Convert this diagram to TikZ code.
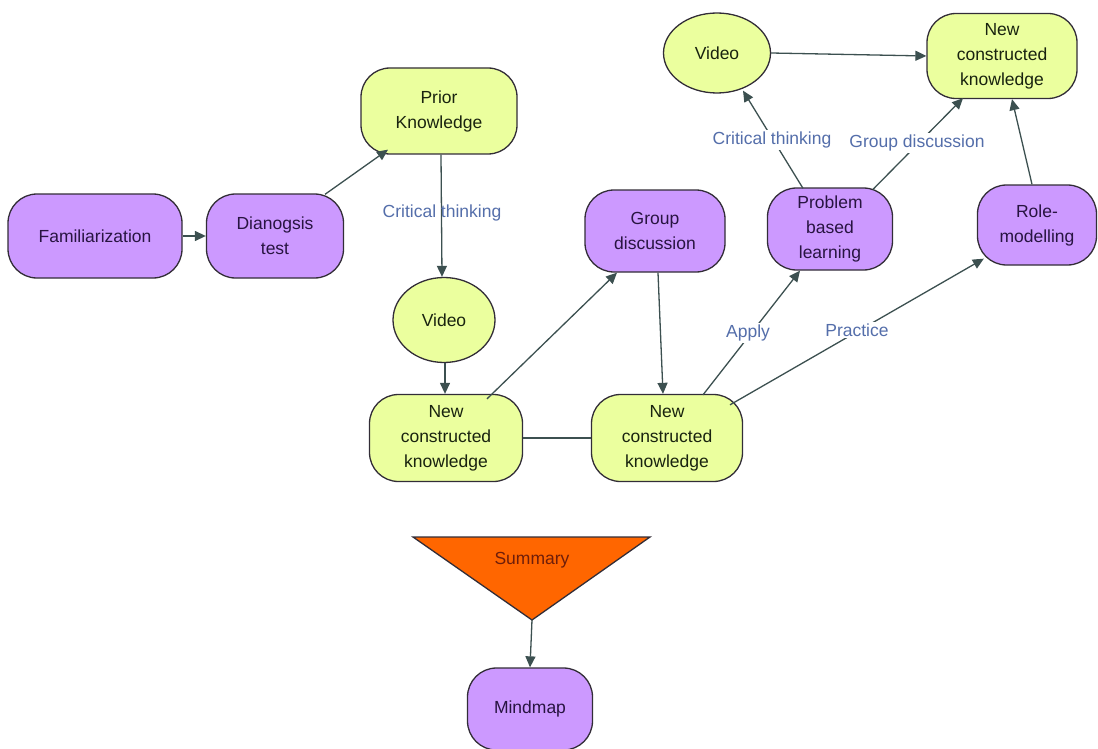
\documentclass[tikz,border=0pt]{standalone}
\usepackage{fontspec}
\setmainfont{Liberation Sans}
\usetikzlibrary{arrows.meta,shapes.geometric,calc}
\definecolor{pfill}{RGB}{204,153,255}
\definecolor{lfill}{RGB}{235,255,158}
\definecolor{ofill}{RGB}{255,102,0}
\definecolor{ptext}{RGB}{40,20,65}
\definecolor{ltext}{RGB}{25,35,15}
\definecolor{stext}{RGB}{110,30,10}
\definecolor{labc}{RGB}{84,110,170}
\definecolor{arrowc}{RGB}{60,80,80}
\definecolor{boxline}{RGB}{50,45,55}
\begin{document}
\begin{tikzpicture}[x=1pt,y=-1pt,
  box/.style={draw=boxline, line width=1.3pt, rounded corners=29pt, align=center,
    font=\fontsize{17.5}{25}\selectfont, inner sep=0pt},
  pbox/.style={box, fill=pfill, text=ptext},
  lbox/.style={box, fill=lfill, text=ltext},
  lell/.style={ellipse, draw=boxline, line width=1.3pt, fill=lfill, text=ltext,
    font=\fontsize{17.5}{25}\selectfont, inner sep=0pt},
  conn/.style={draw=arrowc, line width=1.3pt, -{Triangle[length=11pt,width=10pt]}},
  plain/.style={draw=arrowc, line width=1.3pt},
  lab/.style={text=labc, font=\fontsize{17.5}{22}\selectfont, inner sep=2pt}]
\useasboundingbox (0,0) rectangle (1098,749);
% nodes
\node[pbox, minimum width=174pt, minimum height=84pt] (fam) at (95,236) {Familiarization};
\node[pbox, minimum width=137pt, minimum height=84pt] (dia) at (275,236) {Dianogsis\\test};
\node[lbox, minimum width=156pt, minimum height=86pt] (prior) at (439,111) {Prior\\Knowledge};
\node[lell, minimum width=102pt, minimum height=85pt] (vid1) at (444,320) {Video};
\node[lbox, minimum width=153pt, minimum height=87pt] (nck1) at (446,438) {New\\constructed\\knowledge};
\node[lbox, minimum width=151pt, minimum height=87pt] (nck2) at (667,438) {New\\constructed\\knowledge};
\node[pbox, minimum width=140pt, minimum height=82pt] (grp) at (655,231) {Group\\discussion};
\node[lell, minimum width=107pt, minimum height=80pt] (vid2) at (717,53) {Video};
\node[lbox, minimum width=150pt, minimum height=85pt] (nck3) at (1002,56) {New\\constructed\\knowledge};
\node[pbox, minimum width=125pt, minimum height=82pt] (pbl) at (830,229) {Problem\\based\\learning};
\node[pbox, minimum width=119pt, minimum height=80pt] (role) at (1037,225) {Role-\\modelling};
\draw[draw=boxline, line width=1.3pt, fill=ofill] (413,537) -- (650,537) -- (532,620) -- cycle;
\coordinate (sumapex) at (532,620);
\node[text=stext, font=\fontsize{17.5}{25}\selectfont] (summary) at (532,560) {Summary};
\node[pbox, minimum width=125pt, minimum height=82pt] (mind) at (530,709) {Mindmap};
% connectors
\draw[conn] (fam.east) -- (dia.west);
\draw[conn] ($(dia.north)+(50,1)$) -- ($(prior.south)+(-51,-5)$);
\draw[conn] ($(prior.south)+(2,0)$) -- ($(vid1.north)+(-2,0)$);
\draw[conn] ($(vid1.south)+(1,0)$) -- ($(nck1.north)+(-1,0)$);
\draw[conn] ($(nck1.north)+(41,5)$) -- ($(grp.south)+(-38,0)$);
\draw[conn] ($(grp.south)+(3,0)$) -- ($(nck2.north)+(-4,0)$);
\draw[plain] (nck1.east) -- (nck2.west);
\draw[conn] ($(nck2.north)+(36,1)$) -- ($(pbl.south)+(-30,0)$);
\draw[conn] ($(nck2.north)+(63,11)$) -- ($(role.south west)+(7,-7)$);
\draw[conn] ($(pbl.north)+(-27,1)$) -- ($(vid2.south)+(26,-3)$);
\draw[conn] ($(pbl.north)+(43,2)$) -- ($(nck3.south)+(-39,-1)$);
\draw[conn] ($(role.north)+(-5,0)$) -- ($(nck3.south)+(10,0)$);
\draw[conn] (vid2.east) -- (nck3.west);
\draw[conn] (sumapex) -- (mind.north);
% labels
\node[lab] (l1) at (442,213) {Critical thinking};
\node[lab, fill=white] (l2) at (772,140) {Critical thinking};
\node[lab, fill=white] (l3) at (917,143) {Group discussion};
\node[lab, fill=white] (l4) at (748,333) {Apply};
\node[lab, fill=white] (l5) at (857,330) {Practice};
\end{tikzpicture}
\end{document}
